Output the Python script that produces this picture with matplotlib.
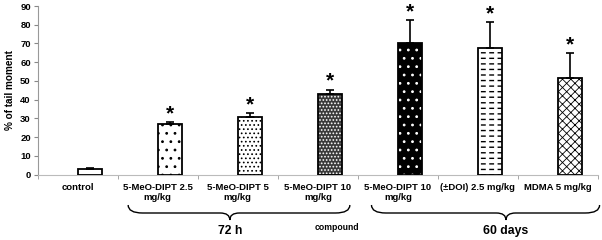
import matplotlib
matplotlib.use("Agg")
import matplotlib.pyplot as plt
from matplotlib.path import Path
from matplotlib.patches import PathPatch
import matplotlib.transforms as mtransforms
import numpy as np

categories = ["control", "5-MeO-DIPT 2.5\nmg/kg", "5-MeO-DIPT 5\nmg/kg",
              "5-MeO-DIPT 10\nmg/kg", "5-MeO-DIPT 10\nmg/kg",
              "(±DOI) 2.5 mg/kg", "MDMA 5 mg/kg"]
values = [2.7, 27.0, 30.8, 42.9, 70.3, 67.4, 51.3]
errors = [0.9, 1.2, 1.8, 2.5, 12.3, 14.2, 13.7]
significant = [False, True, True, True, True, True, True]
group_labels = ["72 h", "60 days"]
group_spans = [(0.63, 3.4), (3.67, 6.52)]
group_centers = [1.9, 5.35]

plt.rcParams['font.family'] = ['Liberation Sans', 'DejaVu Sans']
plt.rcParams['font.weight'] = 'bold'
plt.rcParams['hatch.linewidth'] = 1.0

fig = plt.figure(figsize=(6.02, 2.4), dpi=100)
ax = fig.add_axes([37.7/602, 1-174.5/240, (598-37.7)/602, (174.5-6)/240])

x = np.arange(len(categories))
off = 0.15
w = 0.3
styles = [
    dict(fc='white', hatch=None, hc='black', hlw=1.0),
    dict(fc='white', hatch='..', hc='black', hlw=0.8),
    dict(fc='white', hatch='....', hc='black', hlw=0.7),
    dict(fc='#3a3a3a', hatch='.....', hc='white', hlw=0.8),
    dict(fc='black', hatch='..', hc='white', hlw=0.8),
    dict(fc='white', hatch='---', hc='black', hlw=1.0),
    dict(fc='white', hatch='xxxx', hc='black', hlw=0.6),
]
for i, (v, s) in enumerate(zip(values, styles)):
    with plt.rc_context({'hatch.linewidth': s['hlw']}):
        ax.bar(x[i] + off, v, w, color=s['fc'], edgecolor=s['hc'], hatch=s['hatch'],
               linewidth=0, zorder=2)
    if i == 5:
        # break horizontal lines into dashes
        with plt.rc_context({'hatch.linewidth': 2.5}):
            ax.bar(x[i] + off, v, w, color='none', edgecolor='white', hatch='||',
                   linewidth=0, zorder=2.5)
    ax.bar(x[i] + off, v, w, fill=False, edgecolor='black', linewidth=1.3, zorder=3)

ax.errorbar(x + off, values, yerr=[np.zeros(len(values)), errors], fmt='none',
            ecolor='black', elinewidth=1.2, capsize=3, capthick=1.2, zorder=4)

for i, (v, e, sig) in enumerate(zip(values, errors, significant)):
    if sig:
        ax.text(x[i] + off, v + e + 1.5, '*', ha='center', va='baseline',
                fontsize=15, fontweight='bold')

ax.set_xlim(-0.5, 6.5)
ax.set_ylim(0, 90)
ax.set_yticks(np.arange(0, 91, 10))
ax.tick_params(axis='y', labelsize=6.8, length=3, color='#888888', pad=2)
ax.set_xticks(x)
ax.set_xticklabels(categories, fontsize=6.8, linespacing=1.15)
ax.tick_params(axis='x', length=0, pad=6)
ax.set_xticks(np.arange(-0.5, 7, 1), minor=True)
ax.tick_params(axis='x', which='minor', length=3, color='#999999')
for sp in ['top', 'right']:
    ax.spines[sp].set_visible(False)
ax.spines['left'].set_color('#999999')
ax.spines['bottom'].set_color('#bbbbbb')
ax.spines['left'].set_linewidth(0.8)
ax.spines['bottom'].set_linewidth(0.8)

ax.set_ylabel('% of tail moment', fontsize=7.2, fontweight='bold', labelpad=4)

# braces
trans = mtransforms.blended_transform_factory(ax.transData, fig.transFigure)
def brace(x0, x1, xm, ytop, ymid, ytip):
    dx = 0.12
    verts = [(x0, ytop), (x0, ymid), (x0 + dx*1.5, ymid),
             (xm - dx, ymid),
             (xm, ymid), (xm, ytip),
             (xm, ymid), (xm + dx, ymid),
             (x1 - dx*1.5, ymid),
             (x1, ymid), (x1, ytop)]
    codes = [Path.MOVETO, Path.CURVE3, Path.CURVE3,
             Path.LINETO,
             Path.CURVE3, Path.CURVE3,
             Path.CURVE3, Path.CURVE3,
             Path.LINETO,
             Path.CURVE3, Path.CURVE3]
    p = PathPatch(Path(verts, codes), fill=False, edgecolor='black', lw=1.0,
                  transform=trans, clip_on=False)
    fig.add_artist(p)

for (a, b), c, lab in zip(group_spans, group_centers, group_labels):
    brace(a, b, c, 1-205/240, 1-213/240, 1-220/240)
    fig.text(c, 1-231/240, lab, transform=trans, ha='center', va='center',
             fontsize=8.8, fontweight='bold')
fig.text(337/602, 1-228/240, 'compound', ha='center', va='center',
         fontsize=6.2, fontweight='bold')

fig.savefig('out.png', dpi=100)
